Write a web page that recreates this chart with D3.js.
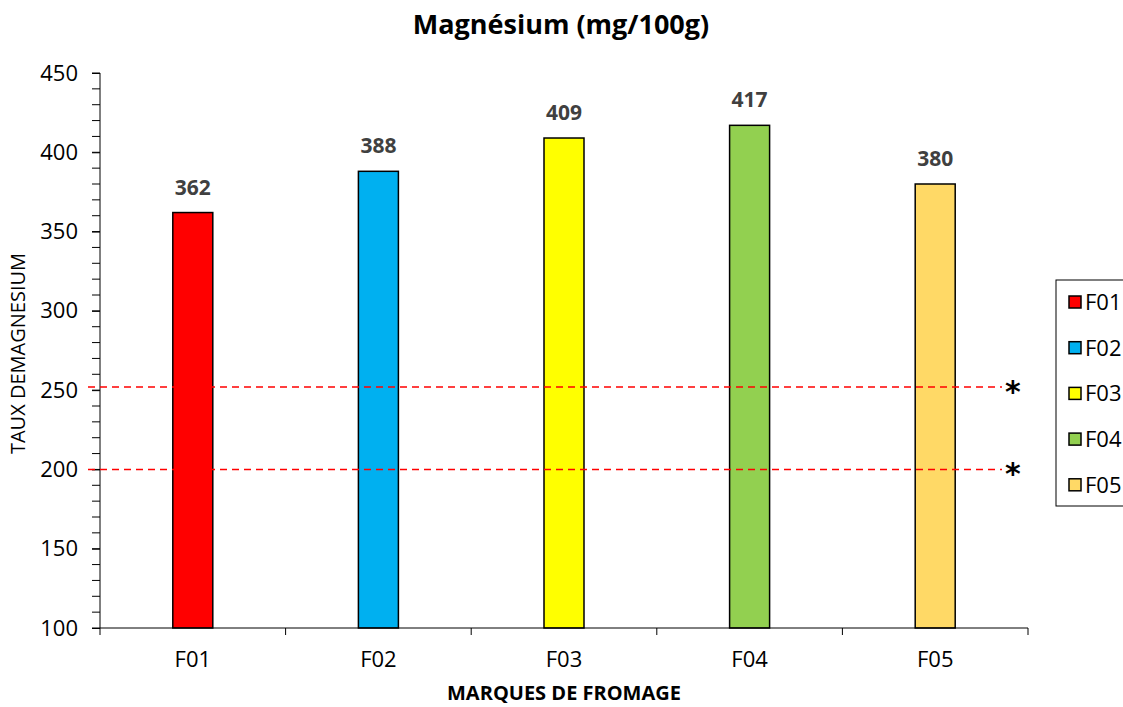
<!DOCTYPE html>
<html>
<head>
<meta charset="utf-8">
<script src="https://cdn.jsdelivr.net/npm/d3@7"></script>
<style>
  body { margin: 0; background: #fff; }
  svg { font-family: "Open Sans", Lato, sans-serif; }
</style>
</head>
<body>
<svg id="chart" width="1123" height="707"></svg>
<script>
// data
var categories = ["F01", "F02", "F03", "F04", "F05"];
var values = [362, 388, 409, 417, 380];
var colors = ["#FF0000", "#00B0F0", "#FFFF00", "#92D050", "#FFD966"];
var refLines = [252, 200];
var yTicks = [100, 150, 200, 250, 300, 350, 400, 450];

var svg = d3.select("#chart"),
    margin = {top: 73, right: 95, bottom: 79, left: 100},
    width = 1123 - margin.left - margin.right,
    height = 707 - margin.top - margin.bottom,
    g = svg.append("g").attr("transform", "translate(" + margin.left + "," + margin.top + ")");

var x = d3.scaleBand().domain(categories).range([0, width]);
var y = d3.scaleLinear().domain([100, 450]).range([height, 0]);

// title
svg.append("text")
    .attr("x", 561).attr("y", 34)
    .attr("text-anchor", "middle")
    .attr("font-size", 27).attr("font-weight", "bold")
    .text("Magnésium (mg/100g)");

// minor ticks on y
g.append("g")
    .selectAll("line")
    .data(d3.range(100, 451, 10))
    .join("line")
    .attr("x1", -8).attr("x2", 0)
    .attr("y1", function(d) { return y(d); })
    .attr("y2", function(d) { return y(d); })
    .attr("stroke", "#000");

var yAxis = g.append("g")
    .call(d3.axisLeft(y).tickValues(yTicks).tickSize(8).tickPadding(14));
yAxis.select(".domain").attr("stroke", "#000").attr("d", "M0,0V" + height);
yAxis.selectAll("text").attr("font-size", 22).attr("fill", "#000").attr("font-family", "Open Sans");

// bars
g.selectAll("rect.bar")
    .data(values)
    .join("rect")
    .attr("class", "bar")
    .attr("x", function(d, i) { return x(categories[i]) + x.bandwidth() / 2 - 20; })
    .attr("width", 40)
    .attr("y", function(d) { return y(d); })
    .attr("height", function(d) { return height - y(d); })
    .attr("fill", function(d, i) { return colors[i]; })
    .attr("stroke", "#000").attr("stroke-width", 1.5);

// value labels
g.selectAll("text.val")
    .data(values)
    .join("text")
    .attr("class", "val")
    .attr("x", function(d, i) { return x(categories[i]) + x.bandwidth() / 2; })
    .attr("y", function(d) { return y(d) - 18; })
    .attr("text-anchor", "middle")
    .attr("font-size", 21).attr("font-weight", "bold").attr("fill", "#404040")
    .text(function(d) { return d; });

// x axis
var xAxis = g.append("g")
    .attr("transform", "translate(0," + height + ")")
    .call(d3.axisBottom(x).tickSize(0).tickPadding(23));
xAxis.select(".domain").attr("stroke", "#000").attr("d", "M0,0H" + width);
xAxis.selectAll("text").attr("font-size", 22).attr("fill", "#000").attr("font-family", "Open Sans");
g.append("g")
    .selectAll("line")
    .data(d3.range(categories.length + 1))
    .join("line")
    .attr("x1", function(i) { return i * x.step(); })
    .attr("x2", function(i) { return i * x.step(); })
    .attr("y1", height).attr("y2", height + 7)
    .attr("stroke", "#000");

// reference lines
g.selectAll("line.ref")
    .data(refLines)
    .join("line")
    .attr("class", "ref")
    .attr("x1", -12).attr("x2", 902)
    .attr("y1", function(d) { return y(d); })
    .attr("y2", function(d) { return y(d); })
    .attr("stroke", "#FF0000").attr("stroke-width", 1.5)
    .attr("stroke-dasharray", "7,5");

g.selectAll("text.star")
    .data(refLines)
    .join("text")
    .attr("class", "star")
    .attr("x", 905)
    .attr("y", function(d) { return y(d) + 15; })
    .attr("font-size", 30).attr("font-weight", "bold").attr("font-family", "DejaVu Sans")
    .text("*");

// axis titles
svg.append("text")
    .attr("transform", "translate(25," + (margin.top + height / 2 + 3) + ") rotate(-90)")
    .attr("text-anchor", "middle")
    .attr("font-size", 20)
    .text("TAUX DEMAGNESIUM");

svg.append("text")
    .attr("x", margin.left + width / 2).attr("y", 700)
    .attr("text-anchor", "middle")
    .attr("font-size", 20).attr("font-weight", "bold")
    .text("MARQUES DE FROMAGE");

// legend
var legend = svg.append("g").attr("transform", "translate(1056,280)");
legend.append("rect")
    .attr("width", 80).attr("height", 226)
    .attr("fill", "#fff").attr("stroke", "#000").attr("stroke-width", 1);
var items = legend.selectAll("g.item")
    .data(categories)
    .join("g")
    .attr("class", "item")
    .attr("transform", function(d, i) { return "translate(13," + (22 + i * 45.7) + ")"; });
items.append("rect")
    .attr("x", 0).attr("y", -6).attr("width", 12).attr("height", 12)
    .attr("fill", function(d, i) { return colors[i]; })
    .attr("stroke", "#000").attr("stroke-width", 1.5);
items.append("text")
    .attr("x", 16).attr("y", 8)
    .attr("font-size", 22)
    .text(function(d) { return d; });
</script>
</body>
</html>
